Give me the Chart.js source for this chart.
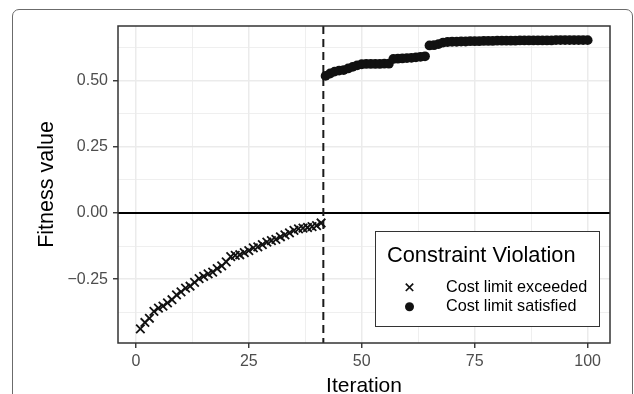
<!DOCTYPE html>
<html>
<head>
<meta charset="utf-8">
<script src="https://cdn.jsdelivr.net/npm/chart.js@4.4.1/dist/chart.umd.min.js"></script>
<style>
    html, body { margin: 0; padding: 0; background: #fff; }
    #wrap { position: relative; width: 634px; height: 394px; overflow: hidden; }
    #frame { position: absolute; left: 12px; top: 9px; width: 621px; height: 420px; border: 1px solid #6b6b6b; border-radius: 7px; box-sizing: border-box; pointer-events: none; }
    canvas { position: absolute; left: 0; top: 0; }
</style>
</head>
<body>
<div id="wrap">
    <canvas id="fitnessChart" width="634" height="400"></canvas>
    <div id="frame"></div>
</div>
<script>
// Best fitness per iteration, split by constraint status
const exceededStart = 1;   // first iteration of the infeasible run
const exceededValues = [
    -0.438, -0.414, -0.398, -0.372, -0.360, -0.352, -0.340, -0.328, -0.310, -0.298,
    -0.284, -0.277, -0.262, -0.248, -0.240, -0.230, -0.224, -0.210, -0.200, -0.185,
    -0.165, -0.160, -0.158, -0.150, -0.142, -0.132, -0.128, -0.120, -0.110, -0.105,
    -0.100, -0.090, -0.083, -0.075, -0.066, -0.060, -0.057, -0.055, -0.052, -0.048,
    -0.038
];
const satisfiedStart = 42; // first feasible iteration
const satisfiedValues = [
    0.518, 0.527, 0.534, 0.538, 0.540, 0.546, 0.552, 0.558, 0.562, 0.563,
    0.563, 0.563, 0.563, 0.564, 0.564, 0.582, 0.583, 0.584, 0.585, 0.586,
    0.588, 0.590, 0.592, 0.633, 0.634, 0.638, 0.644, 0.646, 0.647, 0.647,
    0.648, 0.648, 0.649, 0.649, 0.649, 0.650, 0.650, 0.650, 0.651, 0.651,
    0.651, 0.651, 0.651, 0.652, 0.652, 0.652, 0.652, 0.652, 0.652, 0.652,
    0.652, 0.653, 0.653, 0.653, 0.653, 0.653, 0.653, 0.653, 0.653
];

const seriesNames = ['Cost limit exceeded', 'Cost limit satisfied'];
const legendTitle = 'Constraint Violation';

const xMajor = [0, 25, 50, 75, 100];
const xLabels = ['0', '25', '50', '75', '100'];
const xMinor = [12.5, 37.5, 62.5, 87.5];
const yMajor = [-0.25, 0, 0.25, 0.5];
const yLabels = ['\u22120.25', '0.00', '0.25', '0.50'];
const yMinor = [-0.375, -0.125, 0.125, 0.375, 0.625];

const xRange = [-3.95, 104.95];
const yRange = [-0.4915, 0.7065];
const zeroLine = 0;
const switchLine = 41.5;

const toPoints = (start, values) => values.map((v, i) => ({ x: start + i, y: v }));

Chart.defaults.font.family = "'Liberation Sans', Arial, sans-serif";
Chart.defaults.color = '#4d4d4d';

function gridTicks(major, minor) {
    return scale => {
        scale.ticks = [...major, ...minor].sort((a, b) => a - b).map(v => ({ value: v }));
    };
}

const isMajor = (list, ctx) => ctx.tick && list.includes(ctx.tick.value);

const refLines = {
    id: 'refLines',
    beforeDatasetsDraw(chart) {
        const { ctx, chartArea: a, scales: { x, y } } = chart;
        ctx.save();
        ctx.beginPath();
        ctx.rect(a.left, a.top, a.width, a.height);
        ctx.clip();

        const y0 = y.getPixelForValue(zeroLine);
        ctx.strokeStyle = '#000';
        ctx.lineWidth = 2;
        ctx.beginPath();
        ctx.moveTo(a.left, y0);
        ctx.lineTo(a.right, y0);
        ctx.stroke();

        const xs = x.getPixelForValue(switchLine);
        ctx.strokeStyle = '#1a1a1a';
        ctx.setLineDash([8, 5]);
        ctx.beginPath();
        ctx.moveTo(xs, a.top);
        ctx.lineTo(xs, a.bottom);
        ctx.stroke();
        ctx.restore();
    },
    afterDraw(chart) {
        const { ctx, chartArea: a } = chart;
        ctx.save();

        // panel border
        ctx.strokeStyle = '#333';
        ctx.lineWidth = 1.5;
        ctx.strokeRect(a.left, a.top, a.width, a.height);

        // legend box
        const lx = a.right - 234.5, ly = a.top + 205.5;
        ctx.fillStyle = '#fff';
        ctx.fillRect(lx, ly, 224, 95);
        ctx.strokeStyle = '#333';
        ctx.lineWidth = 1;
        ctx.strokeRect(lx, ly, 224, 95);

        ctx.fillStyle = '#000';
        ctx.textBaseline = 'alphabetic';
        ctx.font = "21.8px 'Liberation Sans', Arial, sans-serif";
        ctx.fillText(legendTitle, lx + 11.5, ly + 30);

        ctx.font = "16.2px 'Liberation Sans', Arial, sans-serif";
        ctx.fillText(seriesNames[0], lx + 70.5, ly + 60.2);
        ctx.fillText(seriesNames[1], lx + 70.5, ly + 79.5);

        const mx = lx + 34;
        ctx.strokeStyle = '#111';
        ctx.lineWidth = 1.7;
        ctx.beginPath();
        ctx.moveTo(mx - 3.7, ly + 55.8 - 3.7);
        ctx.lineTo(mx + 3.7, ly + 55.8 + 3.7);
        ctx.moveTo(mx + 3.7, ly + 55.8 - 3.7);
        ctx.lineTo(mx - 3.7, ly + 55.8 + 3.7);
        ctx.stroke();

        ctx.fillStyle = '#111';
        ctx.beginPath();
        ctx.arc(mx, ly + 75.2, 4.5, 0, Math.PI * 2);
        ctx.fill();
        ctx.restore();
    }
};

new Chart(document.getElementById('fitnessChart'), {
    type: 'scatter',
    data: {
        datasets: [{
            label: seriesNames[0],
            data: toPoints(exceededStart, exceededValues),
            pointStyle: 'crossRot',
            pointRadius: 6,
            borderColor: '#111',
            borderWidth: 1.8,
            backgroundColor: '#111'
        }, {
            label: seriesNames[1],
            data: toPoints(satisfiedStart, satisfiedValues),
            pointStyle: 'circle',
            pointRadius: 4.9,
            borderWidth: 0,
            backgroundColor: '#111'
        }]
    },
    options: {
        responsive: false,
        animation: false,
        events: [],
        layout: { padding: { left: 0, top: 26, right: 24, bottom: 0 } },
        plugins: {
            legend: { display: false },
            tooltip: { enabled: false }
        },
        scales: {
            x: {
                type: 'linear',
                min: xRange[0],
                max: xRange[1],
                afterBuildTicks: gridTicks(xMajor, xMinor),
                afterFit: scale => { scale.height = 57; },
                border: { display: false },
                grid: {
                    color: '#ebebeb',
                    lineWidth: ctx => isMajor(xMajor, ctx) ? 1.5 : 0.8,
                    tickColor: ctx => isMajor(xMajor, ctx) ? '#333' : 'rgba(0,0,0,0)',
                    tickLength: 5,
                    tickWidth: 1.4
                },
                ticks: {
                    autoSkip: false,
                    maxRotation: 0,
                    padding: 4,
                    font: { size: 16 },
                    color: '#4d4d4d',
                    callback: value => {
                        const i = xMajor.indexOf(value);
                        return i < 0 ? '' : xLabels[i];
                    }
                },
                title: {
                    display: true,
                    text: 'Iteration',
                    color: '#000',
                    font: { size: 21 },
                    padding: { top: 0, bottom: 1 }
                }
            },
            y: {
                type: 'linear',
                min: yRange[0],
                max: yRange[1],
                afterBuildTicks: gridTicks(yMajor, yMinor),
                afterFit: scale => { scale.width = 118; },
                border: { display: false },
                grid: {
                    color: '#ebebeb',
                    lineWidth: ctx => isMajor(yMajor, ctx) ? 1.5 : 0.8,
                    tickColor: ctx => isMajor(yMajor, ctx) ? '#333' : 'rgba(0,0,0,0)',
                    tickLength: 5,
                    tickWidth: 1.4
                },
                ticks: {
                    autoSkip: false,
                    padding: 5,
                    font: { size: 16 },
                    color: '#4d4d4d',
                    callback: value => {
                        const i = yMajor.indexOf(value);
                        return i < 0 ? '' : yLabels[i];
                    }
                },
                title: {
                    display: true,
                    text: 'Fitness value',
                    color: '#000',
                    font: { size: 21.5 },
                    padding: { top: 34, bottom: 0 }
                }
            }
        }
    },
    plugins: [refLines]
});
</script>
</body>
</html>
